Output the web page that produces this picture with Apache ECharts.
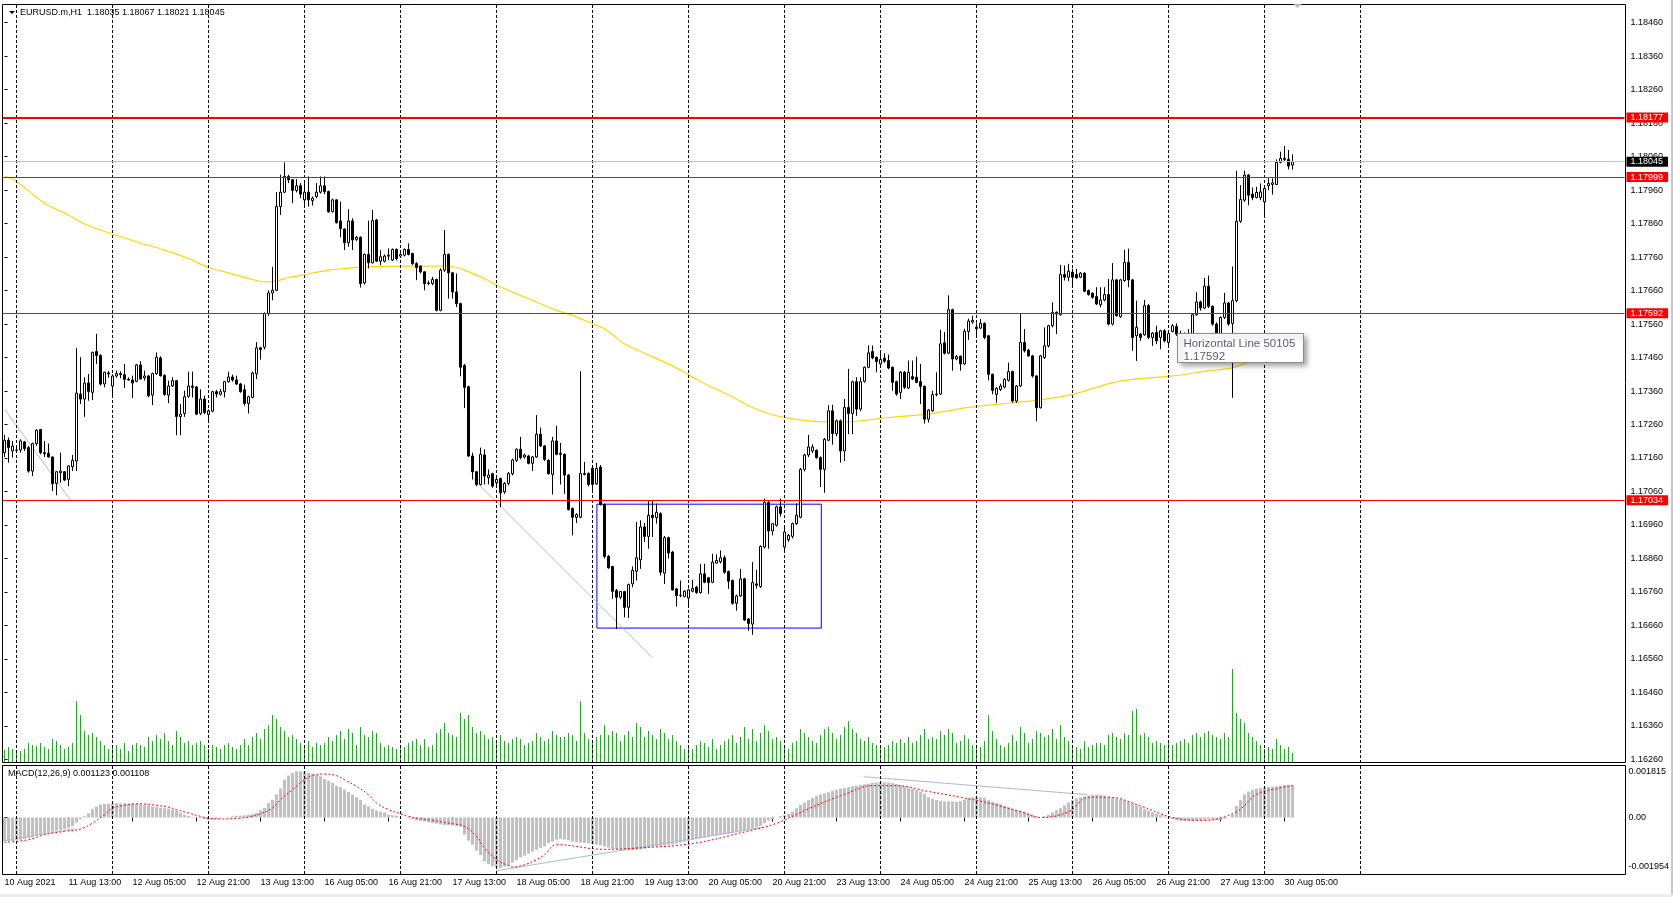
<!DOCTYPE html>
<html><head><meta charset="utf-8">
<script src="https://cdn.jsdelivr.net/npm/echarts@6.0.0/dist/echarts.min.js"></script>
<style>html,body{margin:0;padding:0;background:#fff;overflow:hidden}#c{width:1673px;height:897px}</style>
</head><body><div id="c"></div>
<script>
// Prices are stored as points (0.00001) above 1.16000
const BASE = 1.16;
const OPEN = [
1176,1213,1181,1183,1184,1208,1191,1121,1203,1245,
1176,1174,1163,1084,1116,1119,1096,1134,1151,1351,
1336,1384,1356,1478,1466,1381,1414,1375,1405,1412,
1409,1395,1393,1389,1438,1399,1405,1348,1412,1459,
1407,1348,1375,1391,1284,1293,1344,1375,1372,1293,
1336,1290,1300,1358,1350,1358,1388,1402,1393,1381,
1364,1323,1341,1411,1489,1491,1591,1653,1661,1911,
1954,2001,1991,1959,1973,1931,1954,1929,1941,1954,
1973,1956,1896,1931,1868,1844,1803,1868,1813,1819,
1683,1768,1743,1871,1748,1748,1763,1751,1783,1763,
1766,1783,1771,1741,1733,1716,1681,1681,1693,1601,
1721,1768,1713,1656,1621,1436,1373,1166,1119,1081,
1169,1101,1113,1086,1099,1059,1084,1113,1153,1186,
1163,1166,1144,1163,1231,1196,1153,1111,1211,1174,
1171,1109,1009,983,983,1114,1114,1129,1083,1133,
1021,866,836,764,744,761,714,784,822,856,
954,926,989,982,994,816,922,879,769,749,
746,742,762,774,758,814,802,789,846,850,
862,821,794,726,748,799,679,664,784,776,
894,1027,942,959,1014,894,916,926,964,983,
1126,1169,1181,1183,1161,1126,1213,1301,1233,1271,
1181,1311,1293,1388,1306,1389,1431,1478,1461,1441,
1458,1451,1431,1388,1356,1416,1369,1403,1401,1388,
1374,1276,1301,1349,1351,1504,1473,1603,1456,1464,
1441,1538,1566,1551,1548,1562,1525,1410,1350,1365,
1372,1392,1418,1330,1375,1505,1482,1465,1405,1310,
1460,1495,1555,1595,1588,1708,1700,1715,1708,1700,
1712,1660,1652,1642,1618,1632,1648,1560,1692,1582,
1690,1744,1692,1525,1530,1528,1615,1520,1535,1520,
1540,1505,1538,1553,1530,1520,1528,1530,1588,1626,
1608,1673,1613,1560,1530,1580,1623,1562,1630,1867,
1930,2005,1948,1938,1938,1925,1973,1977,1977,2043,
2055,2052,2035];
const HIGH = [
1229,1221,1211,1191,1216,1211,1196,1206,1246,1247,
1211,1203,1165,1121,1176,1121,1138,1169,1489,1461,
1401,1411,1478,1531,1470,1418,1420,1410,1421,1419,
1441,1401,1406,1441,1449,1421,1408,1415,1475,1464,
1410,1391,1401,1393,1321,1361,1418,1418,1375,1365,
1346,1305,1361,1363,1366,1390,1418,1409,1406,1384,
1379,1346,1418,1506,1492,1595,1661,1731,1954,2006,
2043,2006,1993,1993,1981,1981,2001,1941,1981,2001,
2001,1959,1935,1933,1926,1846,1903,1876,1823,1822,
1771,1869,1901,1874,1781,1768,1786,1786,1786,1772,
1786,1801,1773,1745,1736,1718,1690,1701,1696,1726,
1841,1771,1716,1711,1624,1441,1376,1176,1121,1191,
1186,1126,1116,1101,1101,1088,1118,1158,1189,1223,
1173,1169,1166,1288,1251,1199,1156,1223,1256,1205,
1174,1112,1012,995,1419,1148,1117,1131,1146,1139,
1024,870,838,769,763,763,785,836,969,974,
966,1032,1034,1024,998,927,925,882,772,794,
765,770,796,778,844,844,805,874,872,884,
869,824,797,752,829,802,682,849,826,899,
1039,1034,966,1018,1039,953,933,967,1024,1130,
1173,1229,1201,1186,1165,1220,1318,1319,1275,1275,
1336,1426,1391,1401,1401,1433,1496,1496,1463,1481,
1473,1469,1433,1391,1420,1420,1451,1451,1463,1441,
1377,1306,1361,1416,1543,1536,1646,1606,1468,1466,
1546,1576,1585,1562,1575,1565,1528,1412,1372,1382,
1398,1445,1421,1378,1590,1545,1486,1468,1408,1468,
1550,1558,1625,1598,1737,1735,1740,1725,1725,1715,
1715,1663,1655,1670,1670,1670,1695,1742,1695,1695,
1782,1785,1695,1630,1533,1632,1620,1536,1555,1543,
1545,1535,1560,1562,1540,1535,1545,1590,1655,1630,
1698,1705,1616,1565,1583,1653,1626,1732,2018,1975,
2018,2008,1968,1970,1980,1967,1995,1995,2052,2075,
2092,2080,2067];
const LOW = [
1163,1146,1161,1176,1176,1181,1116,1106,1196,1171,
1163,1161,1061,1049,1086,1091,1076,1121,1121,1321,
1283,1331,1333,1441,1376,1371,1400,1341,1400,1398,
1369,1391,1339,1386,1394,1391,1341,1318,1408,1403,
1346,1324,1372,1228,1228,1283,1340,1341,1288,1288,
1291,1271,1296,1341,1346,1341,1385,1388,1378,1355,
1316,1293,1338,1396,1454,1484,1585,1631,1658,1886,
1951,1981,1921,1953,1936,1916,1911,1914,1936,1950,
1948,1893,1893,1860,1819,1781,1791,1781,1808,1669,
1678,1726,1741,1745,1736,1744,1751,1748,1750,1758,
1762,1765,1736,1691,1711,1661,1676,1676,1598,1598,
1716,1636,1636,1611,1404,1309,1163,1096,1076,1078,
1081,1081,1071,1076,1013,1053,1078,1108,1148,1156,
1158,1141,1121,1160,1193,1151,1110,1051,1168,1081,
1053,1003,929,966,980,1108,1075,1063,1080,1018,
860,829,739,649,738,684,682,774,794,829,
909,889,924,964,809,784,860,764,716,744,
744,719,759,754,755,786,754,786,844,845,
814,769,722,704,745,674,644,632,770,772,
890,889,929,955,985,884,910,920,960,980,
1120,1163,1175,1158,1073,1056,1210,1200,1225,1146,
1151,1231,1231,1286,1300,1385,1428,1455,1416,1436,
1444,1425,1361,1346,1336,1366,1366,1393,1383,1321,
1263,1266,1298,1344,1348,1469,1470,1421,1452,1421,
1438,1513,1561,1523,1545,1515,1392,1350,1325,1360,
1368,1388,1325,1325,1372,1475,1462,1400,1270,1308,
1456,1490,1550,1530,1585,1690,1688,1670,1695,1697,
1655,1645,1636,1617,1610,1628,1556,1556,1582,1579,
1686,1670,1480,1450,1510,1525,1515,1495,1500,1485,
1505,1490,1535,1525,1505,1510,1512,1525,1585,1600,
1605,1608,1555,1510,1526,1575,1555,1340,1625,1862,
1925,1915,1930,1935,1930,1880,1960,1947,1975,2040,
2045,2022,2021];
const CLOSE = [
1213,1191,1196,1184,1211,1188,1121,1203,1243,1176,
1173,1163,1083,1119,1121,1094,1136,1153,1354,1336,
1384,1359,1475,1466,1381,1416,1411,1405,1412,1409,
1395,1393,1384,1438,1396,1405,1346,1412,1461,1406,
1350,1375,1391,1284,1291,1343,1375,1371,1291,1336,
1296,1301,1358,1351,1358,1388,1402,1393,1381,1358,
1323,1343,1414,1489,1484,1591,1653,1661,1911,1954,
2001,1991,1959,1973,1948,1954,1931,1936,1954,1973,
1956,1895,1931,1863,1845,1803,1868,1811,1819,1681,
1768,1743,1869,1748,1761,1763,1766,1783,1756,1768,
1783,1768,1741,1729,1716,1681,1683,1693,1601,1721,
1768,1713,1656,1621,1431,1371,1166,1119,1081,1171,
1106,1109,1076,1096,1056,1084,1114,1154,1186,1161,
1169,1144,1163,1231,1196,1156,1113,1211,1171,1171,
1109,1006,983,991,1114,1111,1081,1081,1129,1021,
866,832,762,744,761,714,782,824,862,954,
926,989,982,998,819,922,876,766,749,750,
762,766,770,758,814,789,788,849,854,862,
819,792,726,748,799,676,666,788,780,896,
1027,942,964,1014,994,939,929,964,989,1126,
1169,1193,1193,1161,1126,1216,1301,1233,1271,1181,
1311,1293,1388,1306,1388,1431,1474,1459,1448,1454,
1449,1429,1386,1351,1416,1371,1416,1396,1386,1374,
1276,1303,1349,1351,1501,1473,1603,1456,1463,1441,
1538,1569,1571,1546,1562,1520,1410,1362,1368,1375,
1395,1418,1330,1375,1505,1480,1465,1405,1310,1465,
1495,1555,1595,1590,1708,1700,1718,1700,1698,1712,
1658,1648,1640,1620,1632,1648,1560,1692,1585,1692,
1744,1692,1520,1550,1520,1615,1520,1533,1510,1540,
1510,1532,1555,1530,1520,1528,1530,1588,1626,1608,
1673,1613,1560,1530,1580,1623,1560,1630,1867,1932,
2005,1945,1938,1953,1955,1965,1980,1982,2043,2055,
2052,2032,2045];
// tick volume per bar
const VOLUME = [
650,800,700,550,600,700,1000,900,850,1000,
800,700,1200,1100,900,700,800,1000,3100,2400,
1600,1400,1500,1300,1100,900,700,800,900,700,
1000,600,900,1000,900,800,1300,1100,1400,1200,
1500,1100,900,1600,1300,1000,1100,900,1000,1100,
900,700,900,800,700,900,1000,800,700,900,
1200,900,1300,1500,1200,1700,1900,2400,2200,1800,
1600,1300,1400,1200,1000,900,1100,800,1000,900,
1000,1300,1100,1400,1600,1200,1700,1500,900,1800,
1400,1300,1600,1500,1000,800,900,800,700,900,
800,1000,1100,1200,900,1200,800,900,1500,1700,
2000,1500,1400,1300,2500,2200,2400,1800,1500,1600,
1400,1200,1300,1000,1400,1100,1000,1200,1300,1200,
900,1000,1100,1500,1300,1100,1200,1600,1400,1300,
1300,1500,1400,1100,3100,1500,1200,1100,1300,1400,
1900,1400,1600,1500,1100,1400,1600,1300,2000,1800,
1300,1600,1400,1200,1700,1500,1200,1400,1100,900,
700,800,700,900,1100,1000,800,1200,700,900,
1100,1200,1400,1000,1300,1800,1200,1700,1100,1500,
1900,1600,1200,1300,1100,900,700,1000,1100,1700,
1500,1300,1100,1000,1400,1700,1800,1500,1200,1400,
1800,2100,1700,1500,1200,1100,1300,1000,900,800,
800,900,1100,1000,1200,1000,1300,1000,1100,1400,
1700,1200,1300,1200,1600,1400,1700,1500,1000,1100,
1400,1200,900,900,800,1100,2400,1600,1200,900,
800,1000,1400,1100,1800,1500,1000,1200,1600,1500,
1300,1400,1700,1200,1900,1300,1100,900,800,700,
1100,800,900,1000,1000,900,1400,1500,1300,1200,
1500,1400,2600,2700,1400,1500,1300,1000,1100,1000,
900,1000,900,1000,1100,1200,1000,1400,1500,1300,
1500,1600,1400,1300,1200,1500,1300,4700,2500,2200,
2000,1500,1300,1100,900,700,800,700,1200,900,
700,800,500];
// MACD main line (histogram), in millionths
const MACD_MAIN = [
-830,-820,-810,-790,-770,-740,-710,-680,-640,-600,
-560,-520,-490,-460,-430,-400,-360,-300,-180,-60,
40,150,290,380,450,470,480,489,490,489,
489,485,480,470,455,440,410,380,360,340,
325,300,270,235,150,100,50,20,0,-30,
-60,-76,-76,-60,-30,0,16,40,62,62,
75,97,120,154,250,330,500,615,800,1000,
1307,1450,1540,1596,1600,1584,1550,1515,1470,1420,
1330,1280,1200,1100,1050,960,880,790,700,615,
450,385,300,246,200,177,97,80,62,20,
0,-30,-60,-99,-120,-145,-170,-192,-210,-240,
-261,-265,-270,-290,-307,-595,-800,-941,-1150,-1300,
-1518,-1610,-1691,-1720,-1748,-1700,-1668,-1560,-1480,-1379,
-1320,-1253,-1180,-1114,-1050,-999,-884,-830,-768,-740,
-760,-790,-830,-860,-870,-880,-900,-920,-940,-960,
-1000,-1040,-1080,-1100,-1120,-1130,-1140,-1130,-1120,-1110,
-1080,-1050,-1020,-1000,-990,-970,-950,-930,-900,-870,
-840,-810,-780,-750,-720,-690,-660,-640,-620,-600,
-580,-560,-540,-510,-480,-450,-420,-390,-340,-290,
-200,-110,-60,0,50,80,120,200,320,440,
520,600,680,750,800,830,870,920,960,1000,
1020,1050,1080,1100,1120,1150,1170,1200,1210,1220,
1220,1210,1190,1160,1120,1080,1040,1000,950,900,
820,700,650,600,580,560,560,550,540,560,
620,660,700,720,700,680,600,540,500,460,
400,350,300,260,240,200,150,100,50,0,
40,100,180,250,320,420,520,600,660,700,
730,760,780,790,780,760,720,680,650,620,
580,540,480,420,360,300,240,180,130,80,
30,-20,-60,-100,-120,-130,-130,-120,-110,-90,
-80,-70,-80,-90,-80,-40,10,100,400,600,
800,900,960,1000,1020,1040,1060,1070,1080,1100,
1120,1115,1123];
// MACD signal line read points [bar, millionths]
const MACD_SIGNAL_PTS = [[0,-860],[6,-768],[10,-595],[15,-480],[19,-399],[22,-192],[25,97],[27,327],[30,419],[33,477],[35,466],[38,419],[41,362],[43,270],[46,154],[49,39],[51,-30],[54,-53],[58,-30],[61,16],[64,131],[67,327],[69,615],[72,961],[75,1307],[77,1457],[80,1503],[83,1446],[85,1307],[88,1077],[91,788],[93,500],[96,270],[99,131],[101,39],[104,-42],[107,-99],[110,-169],[112,-215],[115,-307],[118,-653],[120,-1057],[123,-1460],[126,-1668],[127,-1714],[130,-1633],[133,-1460],[135,-1287],[138,-941],[150,-1100],[159,-1050],[172,-900],[185,-500],[193,-200],[201,300],[210,800],[217,1100],[223,1100],[231,900],[239,700],[246,500],[254,200],[259,0],[266,200],[271,700],[276,700],[284,400],[292,0],[300,-100],[308,200],[313,800],[318,1000],[322,1108]];
// moving average read points [bar, points above 1.16]
const MA_PTS = [[0,2003],[3,1986],[10,1921],[16,1886],[20,1859],[27,1829],[33,1806],[40,1781],[46,1756],[51,1729],[56,1713],[62,1693],[65,1686],[68,1689],[71,1699],[75,1708],[81,1721],[85,1726],[90,1731],[100,1733],[105,1733],[110,1733],[113,1729],[115,1721],[120,1696],[123,1676],[130,1641],[138,1601],[142,1586],[147,1561],[150,1546],[155,1501],[160,1473],[166,1441],[171,1409],[176,1376],[181,1349],[186,1316],[191,1293],[196,1279],[201,1271],[206,1268],[211,1268],[216,1274],[221,1281],[226,1286],[231,1291],[236,1301],[241,1311],[252,1325],[258,1332],[267,1350],[277,1385],[282,1395],[292,1405],[301,1420],[306,1427],[308,1433],[312,1450],[317,1467],[322,1484]];
const TIME_LABELS = ['10 Aug 2021','11 Aug 13:00','12 Aug 05:00','12 Aug 21:00','13 Aug 13:00','16 Aug 05:00','16 Aug 21:00','17 Aug 13:00','18 Aug 05:00','18 Aug 21:00','19 Aug 13:00','20 Aug 05:00','20 Aug 21:00','23 Aug 13:00','24 Aug 05:00','24 Aug 21:00','25 Aug 13:00','26 Aug 05:00','26 Aug 21:00','27 Aug 13:00','30 Aug 05:00'];
const TIME_LABEL_BARS = [0,16,32,48,64,80,96,112,128,144,160,176,192,208,224,240,256,272,288,304,320];
const DAY_START_BARS = [3,27,51,75,99,123,147,171,195,219,243,267,291,315,339];
const PRICE_TICKS = [1.18460,1.18360,1.18260,1.18160,1.18060,1.17960,1.17860,1.17760,1.17660,1.17560,1.17460,1.17360,1.17260,1.17160,1.17060,1.16960,1.16860,1.16760,1.16660,1.16560,1.16460,1.16360,1.16260];
const MACD_TICKS = [0.001815, 0, -0.001954];
const LEVELS = [1.18177, 1.17999, 1.17592, 1.17034];
const TRENDLINES = [[[0,1306],[16.7,1031]], [[117,1100],[162,563]]];
const MACD_TRENDLINES = [[[0,-802],[17.5,-387]], [[123,-1840],[190,-330]], [[214.75,1411],[270.75,788]]];
const BOX = [[148.1,1022],[204.2,652]];
const TIP = {bar: 293, level: 1.17592, title: 'Horizontal Line 50105'};
const SYMBOL = 'EURUSD.m,H1';
const MACD_NAME = 'MACD(12,26,9)';

const FONT = 'Tahoma, "Liberation Sans", Arial, sans-serif';
const P = v => +(BASE + v / 1e5).toFixed(5);
const last = OPEN.length - 1;
const candles = OPEN.map((o, i) => [i, P(o), P(CLOSE[i]), P(LOW[i]), P(HIGH[i])]);
const lastClose = P(CLOSE[last]);

// layout
const GL = 2.5, GW = 1622, GT = 4, MAIN_H = 759, MACD_T = 765, MACD_H = 109, VOL_H = 100;
const XMIN = -0.5, XMAX = 405;

const chart = echarts.init(document.getElementById('c'));
const dayLineMark = {silent: true, symbol: ['none', 'none'], label: {show: false}, precision: 6,
  lineStyle: {color: '#000', type: [3, 2], width: 1}, data: DAY_START_BARS.map(b => ({xAxis: b}))};
const levelLabel = bg => ({show: true, position: 'end', distance: 2, color: '#fff', backgroundColor: bg,
  padding: [0, 5, 0, 4], lineHeight: 10, fontSize: 9, fontFamily: FONT, formatter: p => (+p.value).toFixed(5)});

const hiddenX = gi => ({type: 'value', gridIndex: gi, min: XMIN, max: XMAX, show: false});

const option = {
  animation: false,
  backgroundColor: '#fff',
  grid: [
    {left: GL, top: GT, width: GW, height: MAIN_H},
    {left: GL, top: GT + MAIN_H - VOL_H, width: GW, height: VOL_H},
    {left: GL, top: MACD_T, width: GW, height: MACD_H}
  ],
  xAxis: [hiddenX(0), hiddenX(1), {
    type: 'value', gridIndex: 2, min: XMIN, max: XMAX, position: 'bottom',
    axisLine: {show: false}, splitLine: {show: false},
    axisTick: {show: true, customValues: TIME_LABEL_BARS, length: 4, lineStyle: {color: '#000'}},
    axisLabel: {customValues: TIME_LABEL_BARS, align: 'left', margin: 4, fontSize: 9, color: '#000', fontFamily: FONT,
      formatter: v => TIME_LABELS[TIME_LABEL_BARS.indexOf(Math.round(v))] || ''}
  }],
  yAxis: [
    {type: 'value', gridIndex: 0, min: 1.16249, max: 1.18516, position: 'right',
      axisLine: {show: false}, splitLine: {show: false},
      axisTick: {show: true, customValues: PRICE_TICKS, length: 3, lineStyle: {color: '#000'}},
      axisLabel: {customValues: PRICE_TICKS, margin: 6, fontSize: 9, color: '#000', fontFamily: FONT, formatter: v => v.toFixed(5)}},
    {type: 'value', gridIndex: 1, min: 0, max: 5000, show: false},
    {type: 'value', gridIndex: 2, min: -0.001954, max: 0.001815, position: 'right',
      axisLine: {show: false}, splitLine: {show: false},
      axisTick: {show: true, customValues: [0], length: 3, lineStyle: {color: '#000'}},
      axisLabel: {customValues: MACD_TICKS, margin: 4, fontSize: 9, color: '#000', fontFamily: FONT,
        formatter: v => v === 0 ? '0.00' : (v > 0 ? '{t|' + v.toFixed(6) + '}' : '{b|' + v.toFixed(6) + '}'),
        rich: {t: {padding: [14, 0, 0, 0], fontSize: 9, fontFamily: FONT, color: '#000'},
               b: {padding: [0, 0, 14, 0], fontSize: 9, fontFamily: FONT, color: '#000'}}}}
  ],
  series: [
    {type: 'line', xAxisIndex: 0, yAxisIndex: 0, data: [], silent: true, z: 1, markLine: dayLineMark},
    {type: 'line', xAxisIndex: 2, yAxisIndex: 2, data: [], silent: true, z: 1, markLine: dayLineMark},
    {type: 'bar', xAxisIndex: 1, yAxisIndex: 1, data: VOLUME.map((v, i) => [i, v]), barWidth: 1,
      itemStyle: {color: '#22a822'}, silent: true, z: 2},
    {type: 'line', xAxisIndex: 0, yAxisIndex: 0, data: MA_PTS.map(([i, v]) => [i, P(v)]), showSymbol: false,
      smooth: 0.3, lineStyle: {color: '#ffd700', width: 1.2}, silent: true, z: 3},
    ...TRENDLINES.map(tl => ({type: 'line', xAxisIndex: 0, yAxisIndex: 0, data: tl.map(([i, v]) => [i, P(v)]),
      showSymbol: false, lineStyle: {color: '#aabbd8', width: 1}, silent: true, z: 3})),
    {type: 'candlestick', xAxisIndex: 0, yAxisIndex: 0, data: candles, encode: {x: 0, y: [1, 2, 3, 4]},
      barWidth: 2, silent: true, z: 5,
      itemStyle: {color: '#ffffff', color0: '#000000', borderColor: '#000000', borderColor0: '#000000', borderWidth: 1},
      markLine: {silent: true, symbol: ['none', 'none'], precision: 6, z: 6,
        data: [{yAxis: lastClose, lineStyle: {color: '#c0c0c0', width: 1, type: 'solid'}, label: levelLabel('#000000')}]
          .concat(LEVELS.map((p, k) => ({yAxis: p, lineStyle: {color: '#ff0000', width: k === 0 ? 2 : 1, type: 'solid'}, label: levelLabel('#ff0000')})))},
      markArea: {silent: true, precision: 6, itemStyle: {color: 'rgba(0,0,0,0)', borderColor: '#0000ff', borderWidth: 1},
        data: [[{coord: [BOX[0][0], P(BOX[0][1])]}, {coord: [BOX[1][0], P(BOX[1][1])]}]]}},
    {type: 'bar', xAxisIndex: 2, yAxisIndex: 2, data: MACD_MAIN.map((m, i) => [i, m / 1e6]), barWidth: 3,
      itemStyle: {color: '#c0c0c0'}, silent: true, z: 2},
    {type: 'line', xAxisIndex: 2, yAxisIndex: 2, data: MACD_SIGNAL_PTS.map(([i, v]) => [i, v / 1e6]), showSymbol: false,
      smooth: 0.4, lineStyle: {color: '#ff0000', width: 1, type: [2, 2]}, silent: true, z: 4},
    ...MACD_TRENDLINES.map(tl => ({type: 'line', xAxisIndex: 2, yAxisIndex: 2, data: tl.map(([i, v]) => [i, v / 1e6]),
      showSymbol: false, lineStyle: {color: '#aabbd8', width: 1}, silent: true, z: 3}))
  ]
};
chart.setOption(option);

// overlays: frames, header, tooltip-like object label
const anchor = chart.convertToPixel({gridIndex: 0}, [TIP.bar, TIP.level]);
const shift = chart.convertToPixel({gridIndex: 0}, [last + 1.25, 1.18516]);
const f5 = v => P(v).toFixed(5);
const header = SYMBOL + '  ' + [OPEN[last], HIGH[last], LOW[last], CLOSE[last]].map(f5).join(' ');
const macdText = MACD_NAME + ' ' + (MACD_MAIN[last] / 1e6).toFixed(6) + ' ' + (MACD_SIGNAL_PTS[MACD_SIGNAL_PTS.length - 1][1] / 1e6).toFixed(6);
const tx = Math.round(anchor[0]) + 0.5, ty = Math.round(anchor[1]) + 20.5;
chart.setOption({graphic: [
  {type: 'rect', silent: true, z: 100, shape: {x: GL, y: GT + 0.5, width: GW + 1, height: MAIN_H - 1}, style: {fill: null, stroke: '#000', lineWidth: 1}},
  {type: 'rect', silent: true, z: 100, shape: {x: GL, y: MACD_T + 0.5, width: GW + 1, height: MACD_H}, style: {fill: null, stroke: '#000', lineWidth: 1}},
  {type: 'rect', silent: true, z: 100, shape: {x: 1671, y: 0, width: 2, height: 897}, style: {fill: '#c8c8c8'}},
  {type: 'rect', silent: true, z: 100, shape: {x: 0, y: 894, width: 1673, height: 3}, style: {fill: '#ececec'}},
  {type: 'polygon', silent: true, z: 100, shape: {points: [[9, 11], [15, 11], [12, 14]]}, style: {fill: '#000'}},
  {type: 'text', silent: true, z: 100, x: 20, y: 13, style: {text: header, font: '9px ' + FONT, fill: '#000', verticalAlign: 'middle'}},
  {type: 'text', silent: true, z: 100, x: 8, y: 774, style: {text: macdText, font: '9px ' + FONT, fill: '#000', verticalAlign: 'middle'}},
  {type: 'polygon', silent: true, z: 100, shape: {points: [[shift[0] - 4, 4], [shift[0] + 4, 4], [shift[0], 8]]}, style: {fill: '#b8b8b8'}},
  {type: 'rect', silent: true, z: 110, shape: {x: tx, y: ty, width: 126, height: 29}, style: {fill: '#fff', stroke: '#8c8c8c', lineWidth: 1,
    shadowBlur: 5, shadowOffsetX: 3, shadowOffsetY: 3, shadowColor: 'rgba(0,0,0,0.35)'}},
  {type: 'text', silent: true, z: 111, x: tx + 6, y: ty + 10, style: {text: TIP.title, font: '11.5px ' + FONT, fill: '#5a5a78', verticalAlign: 'middle'}},
  {type: 'text', silent: true, z: 111, x: tx + 6, y: ty + 23.5, style: {text: TIP.level.toFixed(5), font: '11.5px ' + FONT, fill: '#5a5a78', verticalAlign: 'middle'}}
]});
</script></body></html>
